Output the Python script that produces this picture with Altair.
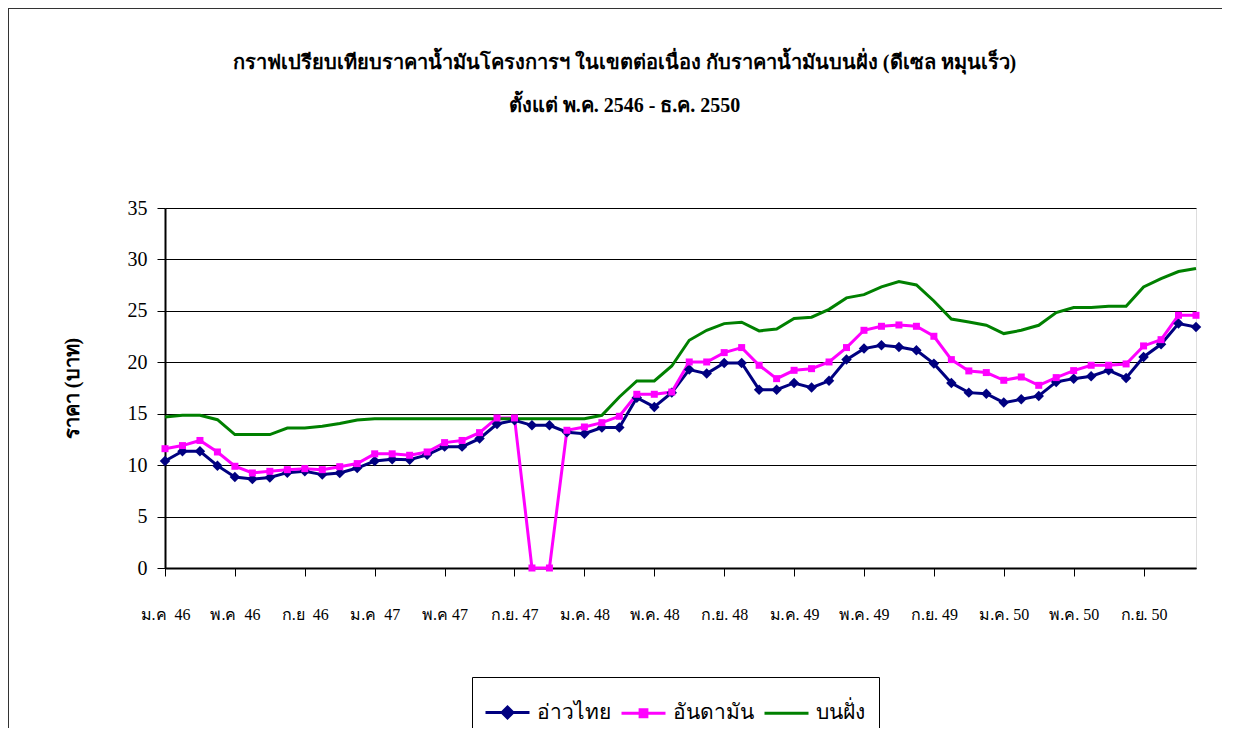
import json
import altair as alt
import pandas as pd

series_names = ["อ่าวไทย", "อันดามัน", "บนฝั่ง"]
series_colors = ["#000080", "#FF00FF", "#008000"]

tick_labels = ["ม.ค\u00a0 46", "พ.ค\u00a0 46", "ก.ย\u00a0 46", "ม.ค\u00a0 47", "พ.ค 47",
               "ก.ย. 47", "ม.ค. 48", "พ.ค. 48", "ก.ย. 48", "ม.ค. 49", "พ.ค. 49",
               "ก.ย. 49", "ม.ค. 50", "พ.ค. 50", "ก.ย. 50"]

gulf = [10.4, 11.35, 11.35, 9.95, 8.85, 8.65, 8.8, 9.27, 9.4, 9.08,
        9.24, 9.72, 10.4, 10.57, 10.53, 11.0, 11.8, 11.8, 12.58, 14.0,
        14.36, 13.87, 13.87, 13.2, 13.06, 13.65, 13.65, 16.56, 15.66, 17.05,
        19.29, 18.9, 19.94, 19.94, 17.34, 17.34, 17.99, 17.54, 18.2, 20.26,
        21.33, 21.65, 21.49, 21.17, 19.87, 17.99, 17.05, 16.95, 16.08, 16.4,
        16.73, 18.09, 18.41, 18.64, 19.22, 18.48, 20.52, 21.75, 23.76, 23.44]

andaman = [11.6, 11.9, 12.4, 11.28, 9.89, 9.24, 9.4, 9.56, 9.66, 9.56,
           9.85, 10.15, 11.1, 11.1, 10.96, 11.28, 12.19, 12.4, 13.16, 14.59,
           14.59, 0.0, 0.0, 13.39, 13.71, 14.13, 14.75, 16.89, 16.89, 17.11,
           20.03, 20.03, 20.94, 21.43, 19.71, 18.41, 19.22, 19.38, 20.03, 21.43,
           23.11, 23.5, 23.63, 23.5, 22.53, 20.26, 19.16, 19.0, 18.25, 18.57,
           17.76, 18.51, 19.19, 19.71, 19.71, 19.84, 21.59, 22.2, 24.57, 24.57]

onshore = [14.68, 14.85, 14.85, 14.42, 12.97, 12.97, 12.97, 13.61, 13.61, 13.78,
           14.04, 14.39, 14.52, 14.52, 14.52, 14.52, 14.52, 14.52, 14.52, 14.52,
           14.52, 14.52, 14.52, 14.52, 14.52, 14.85, 16.63, 18.18, 18.18, 19.64,
           22.14, 23.11, 23.76, 23.89, 23.05, 23.24, 24.25, 24.38, 25.15, 26.26,
           26.58, 27.33, 27.84, 27.52, 25.96, 24.21, 23.92, 23.6, 22.79, 23.11,
           23.6, 24.83, 25.32, 25.32, 25.45, 25.45, 27.33, 28.14, 28.82, 29.11]

title_lines = ["กราฟเปรียบเทียบราคาน้ำมันโครงการฯ ในเขตต่อเนื่อง กับราคาน้ำมันบนฝั่ง (ดีเซล หมุนเร็ว)",
               "ตั้งแต่ พ.ค. 2546 - ธ.ค. 2550"]
y_title = "ราคา (บาท)"

rows = []
for name, vals in zip(series_names, [gulf, andaman, onshore]):
    for i, v in enumerate(vals):
        rows.append({"month": i, "series": name, "price": v})
df = pd.DataFrame(rows)

FONT = "'Liberation Serif', 'Times New Roman', serif"

legend_paths = [
    "M-1.1,0L1.1,0M0,-0.27L0.27,0L0,0.27L-0.27,0Z",
    "M-1.1,0L1.1,0M-0.17,-0.17L0.17,-0.17L0.17,0.17L-0.17,0.17Z",
    "M-1.1,0L1.1,0",
]
label_expr = "%s[floor(datum.value / 4)]" % json.dumps(tick_labels, ensure_ascii=False)

color_scale = alt.Scale(domain=series_names, range=series_colors)

x_enc = alt.X("month:Q", scale=alt.Scale(domain=[0, len(gulf) - 1], nice=False, zero=False),
              axis=alt.Axis(values=list(range(0, len(gulf), 4)), labelExpr=label_expr,
                            title=None, grid=False, domainColor="black", domainWidth=2,
                            tickColor="black", tickSize=8, labelPadding=30, labelFontSize=16,
                            labelFont=FONT, labelColor="black", labelFlush=False))
y_enc = alt.Y("price:Q", scale=alt.Scale(domain=[0, 35], nice=False),
              axis=alt.Axis(values=[0, 5, 10, 15, 20, 25, 30, 35], title=y_title,
                            titleFont=FONT, titleFontSize=20, titleFontWeight="bold",
                            titleColor="black", titleX=-93, titleY=180, titleAngle=270,
                            titleAlign="center", titleBaseline="middle",
                            grid=True, gridColor="black", gridWidth=1,
                            domainColor="black", domainWidth=2, tickColor="black",
                            tickSize=8, labelPadding=10, labelFontSize=20, labelFont=FONT,
                            labelColor="black"))

legend = alt.Legend(
    title=None,
    orient="none", legendX=307, legendY=469, direction="horizontal",
    columns=3, strokeColor="black", fillColor="white", padding=14,
    symbolSize=1600, symbolStrokeWidth=3, labelFont=FONT,
    labelFontSize=21, labelColor="black", labelOffset=8, columnPadding=4)

base = alt.Chart(df)

lines = base.mark_line(strokeWidth=3).encode(
    x=x_enc, y=y_enc,
    color=alt.Color("series:N", scale=color_scale, sort=series_names, legend=legend),
    order="month:Q",
)

gulf_pts = base.transform_filter(alt.datum.series == series_names[0]).mark_point(
    filled=True, opacity=1, shape="diamond", size=110).encode(
    x="month:Q", y="price:Q",
    color=alt.Color("series:N", scale=color_scale, sort=series_names, legend=legend))

andaman_pts = base.transform_filter(alt.datum.series == series_names[1]).mark_point(
    filled=True, opacity=1, shape="square", size=49).encode(
    x="month:Q", y="price:Q",
    color=alt.Color("series:N", scale=color_scale, sort=series_names, legend=legend))

# legend-only layer: no rows survive the filter, legend comes from the scales
legend_layer = base.transform_filter("datum.month < 0").mark_point(
    filled=True, opacity=1, strokeWidth=3).encode(
    x="month:Q", y="price:Q",
    color=alt.Color("series:N", scale=color_scale, sort=series_names, legend=legend),
    stroke=alt.Stroke("series:N", scale=alt.Scale(domain=series_names, range=series_colors),
                      sort=series_names, legend=legend),
    shape=alt.Shape("series:N", scale=alt.Scale(domain=series_names, range=legend_paths),
                    sort=series_names, legend=legend),
)

one = pd.DataFrame({"k": [0]})
border_top = alt.Chart(one).mark_rule(color="#333333", strokeWidth=2).encode(
    x=alt.value(-157), x2=alt.value(1080), y=alt.value(-200))
border_left = alt.Chart(one).mark_rule(color="#333333", strokeWidth=2).encode(
    x=alt.value(-157), y=alt.value(-200), y2=alt.value(540))

chart = alt.layer(lines, gulf_pts, andaman_pts, legend_layer, border_top, border_left).properties(
    width=1031, height=360,
    title=alt.TitleParams(text=title_lines, font=FONT, fontSize=20, fontWeight="bold",
                          color="black", anchor="middle", offset=-109, lineHeight=43, dx=-56),
    autosize=alt.AutoSizeParams(type="none"),
    padding={"left": 157, "top": 200, "right": 26, "bottom": 160},
).configure_view(stroke="#404040", strokeWidth=2).configure(background="white")

chart.save("out.html", embed_options={"renderer": "svg", "actions": False})
